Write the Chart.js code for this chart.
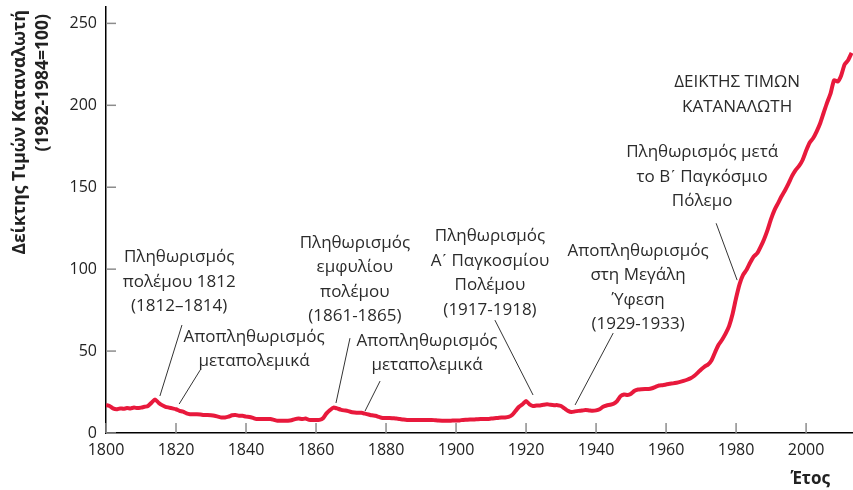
<!DOCTYPE html>
<html>
<head>
<meta charset="utf-8">
<script src="https://cdn.jsdelivr.net/npm/chart.js@4"></script>
<style>
  html, body { margin: 0; padding: 0; background: #fff; }
</style>
</head>
<body>
<canvas id="chartCPI" width="853" height="490"></canvas>
<script>
const years = [
  1800, 1801, 1802, 1803, 1804, 1805, 1806, 1807, 1808, 1809,
  1810, 1811, 1812, 1813, 1814, 1815, 1816, 1817, 1818, 1819,
  1820, 1821, 1822, 1823, 1824, 1825, 1826, 1827, 1828, 1829,
  1830, 1831, 1832, 1833, 1834, 1835, 1836, 1837, 1838, 1839,
  1840, 1841, 1842, 1843, 1844, 1845, 1846, 1847, 1848, 1849,
  1850, 1851, 1852, 1853, 1854, 1855, 1856, 1857, 1858, 1859,
  1860, 1861, 1862, 1863, 1864, 1865, 1866, 1867, 1868, 1869,
  1870, 1871, 1872, 1873, 1874, 1875, 1876, 1877, 1878, 1879,
  1880, 1881, 1882, 1883, 1884, 1885, 1886, 1887, 1888, 1889,
  1890, 1891, 1892, 1893, 1894, 1895, 1896, 1897, 1898, 1899,
  1900, 1901, 1902, 1903, 1904, 1905, 1906, 1907, 1908, 1909,
  1910, 1911, 1912, 1913, 1914, 1915, 1916, 1917, 1918, 1919,
  1920, 1921, 1922, 1923, 1924, 1925, 1926, 1927, 1928, 1929,
  1930, 1931, 1932, 1933, 1934, 1935, 1936, 1937, 1938, 1939,
  1940, 1941, 1942, 1943, 1944, 1945, 1946, 1947, 1948, 1949,
  1950, 1951, 1952, 1953, 1954, 1955, 1956, 1957, 1958, 1959,
  1960, 1961, 1962, 1963, 1964, 1965, 1966, 1967, 1968, 1969,
  1970, 1971, 1972, 1973, 1974, 1975, 1976, 1977, 1978, 1979,
  1980, 1981, 1982, 1983, 1984, 1985, 1986, 1987, 1988, 1989,
  1990, 1991, 1992, 1993, 1994, 1995, 1996, 1997, 1998, 1999,
  2000, 2001, 2002, 2003, 2004, 2005, 2006, 2007, 2008, 2009,
  2010, 2011, 2012, 2013
];

const cpi = [
  17, 16.5, 15, 14.5, 15, 14.8, 15.2, 15, 15.5, 15.2,
  15.5, 16, 16.5, 18.5, 20.5, 18.5, 17, 16, 15.5, 15,
  14.5, 13.5, 13, 12, 11.5, 11.5, 11.5, 11.3, 11, 11,
  10.8, 10.5, 10, 9.5, 9.5, 10, 10.8, 11, 10.5, 10.5,
  10, 9.8, 9.2, 8.5, 8.5, 8.5, 8.5, 8.5, 8, 7.5,
  7.5, 7.5, 7.5, 7.8, 8.5, 8.8, 8.5, 8.8, 8, 8,
  8, 8, 9, 12, 14, 15.5, 15, 14.3, 13.8, 13.5,
  12.8, 12.5, 12.3, 12.3, 11.8, 11.3, 10.8, 10.5, 9.8, 9.2,
  9.2, 9.2, 9, 8.8, 8.5, 8.2, 8, 8, 8, 8,
  8, 8, 8, 8, 7.8, 7.6, 7.5, 7.5, 7.5, 7.6,
  7.6, 7.7, 8, 8.1, 8.2, 8.2, 8.4, 8.6, 8.5, 8.6,
  8.8, 9, 9.2, 9.4, 9.5, 9.8, 11, 13.5, 16, 17.5,
  19.5, 17.5, 16.5, 16.8, 16.8, 17.2, 17.5, 17.2, 17, 17,
  16.5, 15, 13.5, 12.8, 13.2, 13.5, 13.7, 14, 13.8, 13.6,
  13.8, 14.5, 16, 16.8, 17.2, 17.8, 19.5, 22.5, 23.5, 23.2,
  24, 25.8, 26.5, 26.7, 26.8, 26.8, 27.3, 28.2, 29, 29.2,
  29.6, 30, 30.3, 30.7, 31.2, 31.8, 32.5, 33.4, 34.8, 36.7,
  38.8, 40.5, 41.8, 44.4, 49.3, 53.8, 56.9, 60.6, 65.2, 72.6,
  82.4, 90.9, 96.5, 99.6, 103.9, 107.6, 109.6, 113.6, 118.3, 124,
  130.7, 136.2, 140.3, 144.5, 148.2, 152.4, 156.9, 160.5, 163, 166.6,
  172.2, 177.1, 179.9, 184, 188.9, 195.3, 201.6, 207.3, 215.3, 214.5,
  218.1, 224.9, 227.5, 232
];

const xTicks = [1800, 1820, 1840, 1860, 1880, 1900, 1920, 1940, 1960, 1980, 2000];
const yTicks = [0, 50, 100, 150, 200, 250];

const yTitle = ['Δείκτης Τιμών Καταναλωτή', '(1982-1984=100)'];
const xTitle = 'Έτος';

// annotation texts, anchored at (year, value) of the first line
const notes = [
  { lines: ['Πληθωρισμός', 'πολέμου 1812', '(1812–1814)'], year: 1820.9, value: 107.3 },
  { lines: ['Αποπληθωρισμός', 'μεταπολεμικά'], year: 1842.3, value: 58.5 },
  { lines: ['Πληθωρισμός', 'εμφυλίου', 'πολέμου', '(1861-1865)'], year: 1871.1, value: 115.9 },
  { lines: ['Αποπληθωρισμός', 'μεταπολεμικά'], year: 1891.7, value: 56.1 },
  { lines: ['Πληθωρισμός', 'Α\u0374 Παγκοσμίου', 'Πολέμου', '(1917-1918)'], year: 1909.7, value: 120.1 },
  { lines: ['Αποπληθωρισμός', 'στη Μεγάλη', 'Ύφεση', '(1929-1933)'], year: 1952, value: 111 },
  { lines: ['Πληθωρισμός μετά', 'το Β\u0374 Παγκόσμιο', 'Πόλεμο'], year: 1970.3, value: 171.3 },
  { lines: ['ΔΕΙΚΤΗΣ ΤΙΜΩΝ', 'ΚΑΤΑΝΑΛΩΤΗ'], year: 1980.3, value: 214 }
];

// leader lines: [year1, value1, year2, value2]
const leaders = [
  [1821.7, 65.9, 1815.4, 22.6],
  [1826.9, 38.4, 1820.9, 17.7],
  [1869.7, 57.9, 1865.7, 18.3],
  [1878.3, 31.7, 1874.0, 13.4],
  [1911.1, 68.9, 1922.0, 23.2],
  [1944.9, 61.0, 1934.0, 17.1],
  [1974.3, 128.0, 1980.3, 93.3]
];

Chart.defaults.font.family = "'Open Sans', sans-serif";

const extras = {
  id: 'extras',
  afterDraw(chart) {
    const { ctx, chartArea } = chart;
    const x = chart.scales.x;
    const y = chart.scales.y;
    ctx.save();

    // inward ticks
    ctx.strokeStyle = '#8c8c8c';
    ctx.lineWidth = 1.5;
    xTicks.forEach(t => {
      const px = x.getPixelForValue(t);
      ctx.beginPath();
      ctx.moveTo(px, chartArea.bottom);
      ctx.lineTo(px, chartArea.bottom - 10);
      ctx.stroke();
    });
    yTicks.forEach(t => {
      const py = y.getPixelForValue(t);
      ctx.beginPath();
      ctx.moveTo(chartArea.left, py);
      ctx.lineTo(chartArea.left + 10, py);
      ctx.stroke();
    });

    // leader lines
    ctx.strokeStyle = '#333';
    ctx.lineWidth = 1;
    leaders.forEach(l => {
      ctx.beginPath();
      ctx.moveTo(x.getPixelForValue(l[0]), y.getPixelForValue(l[1]));
      ctx.lineTo(x.getPixelForValue(l[2]), y.getPixelForValue(l[3]));
      ctx.stroke();
    });

    // annotation texts
    ctx.fillStyle = '#2b2b2b';
    ctx.font = "17px 'Open Sans'";
    ctx.textAlign = 'center';
    ctx.textBaseline = 'middle';
    notes.forEach(n => {
      const px = x.getPixelForValue(n.year);
      const py = y.getPixelForValue(n.value);
      n.lines.forEach((line, i) => ctx.fillText(line, px, py + i * 24.5));
    });

    // y axis title (rotated, lines ending at the top)
    ctx.fillStyle = '#222';
    ctx.font = "bold 17.5px 'Open Sans'";
    ctx.textAlign = 'right';
    ctx.translate(20, 10);
    ctx.rotate(-Math.PI / 2);
    ctx.fillText(yTitle[0], 0, 0);
    ctx.fillText(yTitle[1], -4, 23);
    ctx.setTransform(1, 0, 0, 1, 0, 0);

    // x axis title
    ctx.font = "bold 17px 'Open Sans'";
    ctx.textAlign = 'right';
    ctx.fillText(xTitle, 830, 479);
    ctx.restore();
  }
};

new Chart(document.getElementById('chartCPI'), {
  type: 'line',
  data: {
    datasets: [
      {
        label: 'ΔΕΙΚΤΗΣ ΤΙΜΩΝ ΚΑΤΑΝΑΛΩΤΗ',
        data: years.map((yr, i) => ({ x: yr, y: cpi[i] })),
        borderColor: '#e8193c',
        borderWidth: 4,
        pointRadius: 0,
        tension: 0.2,
        fill: false
      }
    ]
  },
  options: {
    responsive: false,
    animation: false,
    layout: { padding: { top: 7, right: 0, left: 0, bottom: 0 } },
    plugins: {
      legend: { display: false },
      tooltip: { enabled: false }
    },
    scales: {
      x: {
        type: 'linear',
        min: 1800,
        max: 2013.4,
        afterBuildTicks: s => { s.ticks = xTicks.map(v => ({ value: v })); },
        afterFit: s => { s.height = 57; s.paddingLeft = 0; s.paddingRight = 0; },
        grid: { drawOnChartArea: false, drawTicks: false },
        border: { color: '#000', width: 1.5 },
        ticks: {
          padding: 8,
          color: '#222',
          maxRotation: 0,
          autoSkip: false,
          font: { size: 16 },
          callback: v => String(v)
        }
      },
      y: {
        min: 0,
        max: 260,
        afterBuildTicks: s => { s.ticks = yTicks.map(v => ({ value: v })); },
        afterFit: s => { s.width = 106; s.paddingTop = 0; s.paddingBottom = 0; },
        grid: { drawOnChartArea: false, drawTicks: false },
        border: { color: '#000', width: 1.5 },
        ticks: {
          padding: 9,
          color: '#222',
          font: { size: 16 }
        }
      }
    }
  },
  plugins: [extras]
});
</script>
</body>
</html>
